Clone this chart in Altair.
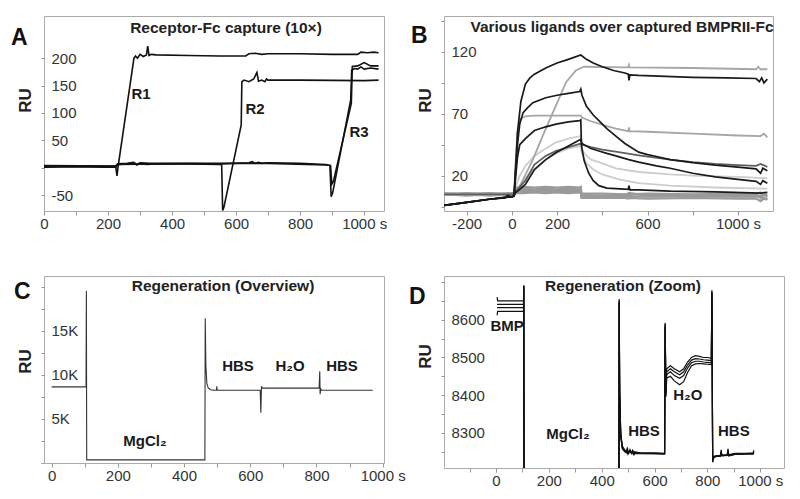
import altair as alt
import pandas as pd

FONT = "Liberation Sans"

# ---------------- Panel A: Receptor-Fc capture ----------------
A_x1 = [0, 100, 200, 224, 228, 231, 281, 286, 292, 300, 310, 320, 324, 328, 335, 350, 450, 550, 630, 640, 660, 680, 700, 800, 900, 980, 990, 1010, 1030, 1045]
A_y1 = [2, 3, 2, 2, -15, 0, 200, 204, 200, 207, 203, 206, 222, 205, 207, 206, 205, 204, 204, 208, 209, 207, 208, 208, 207, 207, 211, 210, 211, 210]
A_x2 = [0, 100, 200, 224, 230, 260, 280, 290, 300, 320, 350, 450, 550, 555, 558, 562, 616, 618, 625, 640, 655, 665, 670, 680, 690, 695, 700, 800, 1000, 1045]
A_y2 = [1, 2, 1, 1, 6, 7, 9, 5, 8, 6, 7, 7, 6, 5, -78, -72, 78, 157, 160, 157, 162, 174, 158, 160, 157, 162, 160, 160, 159, 160]
A_x3 = [0, 100, 200, 224, 230, 260, 280, 290, 300, 330, 350, 450, 550, 640, 650, 660, 670, 680, 700, 800, 880, 893, 897, 902, 958, 961, 970, 980, 990, 1000, 1020, 1045]
A_y3 = [3, 3, 2, 3, 7, 8, 10, 6, 9, 8, 8, 8, 7, 9, 11, 8, 10, 8, 9, 8, 6, 4, -53, -45, 124, 178, 181, 180, 184, 180, 182, 180]
A_x4 = [0, 224, 230, 350, 550, 700, 880, 895, 899, 904, 960, 963, 980, 1000, 1020, 1045]
A_y4 = [4, 3, 6, 7, 8, 8, 5, 4, -30, -25, 118, 185, 186, 192, 186, 186]
A_lab = ["R1", "R2", "R3"]
A_lab_x = [303, 659, 984]
A_lab_y = [134, 107, 65]

# ---------------- Panel B: ligands over captured BMPRII-Fc ----------------
B_x1 = [-300, -200, -100, -30, -20, 0, 10, 15, 25, 40, 60, 80, 100, 150, 200, 250, 305, 330, 360, 400, 450, 500, 515, 518, 522, 560, 650, 800, 950, 1080, 1095, 1105, 1115, 1130]
B_y1 = [-4, -1.5, 1, 2, 4, 3, 3.5, 20, 55, 80, 94, 99, 102, 107, 111, 114, 117.5, 114, 111, 108, 105, 103, 102, 97, 101.5, 101, 100.5, 99.5, 99, 98.5, 96, 99, 95, 98]
B_x2 = [-300, -150, 0, 10, 20, 50, 93, 136, 196, 240, 283, 305, 320, 500, 515, 518, 521, 800, 1080, 1090, 1100, 1130]
B_y2 = [5, 5.5, 5, 5, 6, 17, 33, 52, 77, 95.5, 105, 107, 108, 107.5, 107.5, 109.5, 107.5, 107, 106, 108, 106, 106]
B_x3 = [-300, -200, -100, 0, 10, 15, 25, 35, 50, 70, 93, 150, 200, 250, 300, 305, 310, 330, 360, 385, 420, 460, 500, 561, 600, 640, 700, 800, 900, 1000, 1080, 1100, 1110, 1130]
B_y3 = [-4, -1.5, 1, 3, 3.5, 20, 45, 62, 71, 75, 79, 83, 85, 86.5, 88, 90, 85, 76, 69, 64.5, 58, 52, 46, 39, 37, 35.5, 33, 30.5, 28.5, 27, 25.5, 22, 26, 24]
B_x4 = [-300, 0, 10, 15, 25, 40, 60, 100, 200, 305, 310, 350, 385, 420, 460, 515, 518, 521, 600, 800, 1000, 1100, 1115, 1130]
B_y4 = [5, 5, 5, 25, 55, 66, 68, 68.5, 68.5, 68.5, 67, 64, 62, 60, 58, 56, 59, 56, 55.5, 54, 52.5, 52, 54, 51]
B_x5 = [-300, -200, -100, 0, 10, 15, 25, 35, 60, 100, 150, 196, 250, 300, 305, 308, 320, 340, 360, 385, 420, 460, 515, 518, 522, 560, 700, 900, 1100, 1130]
B_y5 = [-4, -1.5, 1, 3, 3.5, 15, 35, 45, 50, 56.5, 59.5, 61.7, 63.5, 64.5, 65, 44, 32, 22, 16, 12, 10, 9.5, 9, 12, 8.5, 8.5, 7.5, 7, 6, 6.5]
B_x6 = [-300, -200, -100, 0, 10, 15, 35, 60, 100, 150, 196, 250, 305, 310, 350, 385, 420, 460, 517, 561, 640, 700, 800, 900, 1000, 1080, 1100, 1110, 1130]
B_y6 = [-4, -1.5, 1, 3, 3.5, 6, 9, 13, 25, 33, 38.7, 44, 49.5, 46, 42, 40, 38, 36, 33, 31, 28, 26, 22, 19, 17, 15.5, 13, 16, 14]
B_x7 = [-300, 0, 10, 15, 35, 60, 100, 150, 196, 250, 305, 310, 350, 400, 473, 561, 700, 800, 900, 1000, 1080, 1100, 1130]
B_y7 = [5, 5, 5, 7, 11, 16, 29, 36, 40, 43, 46, 45, 43, 41, 39, 36.5, 33, 31, 29.5, 28.5, 28, 29.5, 27]
B_x8 = [-300, 0, 10, 15, 35, 60, 100, 150, 196, 250, 305, 310, 320, 350, 385, 460, 561, 700, 800, 1000, 1130]
B_y8 = [5, 5, 5, 10, 20, 28, 36, 42, 47, 50, 52, 42, 38, 33, 31, 26, 23, 21, 20, 19, 18]
B_x9 = [-300, 0, 10, 15, 35, 60, 100, 150, 196, 250, 305, 310, 330, 360, 400, 473, 561, 700, 900, 1130]
B_y9 = [5, 5, 5, 6, 12, 18, 25, 33, 38, 42, 44, 38, 30, 25, 21, 17, 14, 12, 10.5, 9.5]
B_xg = [-300, -250, -200, -150, -100, -50, 0, 10, 12, 50, 100, 150, 200, 250, 300, 305, 308, 400, 500, 515, 518, 600, 800, 1000, 1080, 1100, 1115, 1130]
B_yg1 = [6, 5.5, 6, 5.5, 6, 5.5, 6, 6, 10.5, 11, 10.5, 11, 10.5, 11, 10.5, 11, 4.5, 4, 4.5, 4, 6, 4, 4.5, 4, 4.5, 2, 5, 3]
B_yg2 = [5, 5.5, 5, 5.5, 5, 5.5, 5, 5, 9, 9.5, 9, 9.5, 9, 9.5, 9, 9.5, 3, 3, 3.5, 3, 3.5, 3, 3.5, 3, 3, 4, 1, 2]
B_yg3 = [4.5, 4.5, 4, 4.5, 4, 4.5, 4, 4, 7.5, 8, 7.5, 8, 7.5, 8, 7.5, 8, 2, 2, 2, 1.5, 2, 1.5, 2, 1.5, 1.5, -0.5, 2, 0.5]
B_yg4 = [5, 5, 5.5, 5, 5.5, 5, 5.5, 5.5, 6, 6, 6.5, 6, 6.5, 6, 6.5, 6, 5.5, 5.5, 5, 5.5, 5, 5.5, 5, 5.5, 5, 6.5, 4, 5]

# ---------------- Panel C: Regeneration overview ----------------
C_x = [0, 104, 105, 106, 463, 464, 466, 469, 473, 480, 490, 498, 499, 500, 630, 632, 634, 636, 808, 810, 811, 813, 815, 970]
C_y = [8630, 8630, 19500, 350, 350, 16400, 11000, 9000, 8500, 8300, 8260, 8250, 8700, 8250, 8245, 5700, 8700, 8485, 8485, 10400, 7800, 8400, 8250, 8245]
C_lab = ["MgCl₂", "HBS", "H₂O", "HBS"]
C_lab_x = [282, 563, 720, 877]
C_lab_y = [2460, 10960, 10960, 10960]

# ---------------- Panel D: Regeneration zoom ----------------
D_x = [4, 6, 104, 105, 106, 465, 466, 468, 472, 478, 487, 494, 497, 500, 507, 514, 517, 522, 525, 545, 600, 638, 640, 643,
       646, 660, 675, 695, 710, 725, 740, 755, 770, 785, 800, 815,
       817, 820, 825, 837, 849, 852, 855, 875, 878, 881, 905, 945, 973, 976]
D_y1 = [8660, 8650, 8650, 8690, 8000, 8000, 8655, 8420, 8300, 8265, 8255, 8250, 8262, 8245, 8256, 8245, 8255, 8243, 8250, 8247, 8247, 8246, 8592, 8410,
        8470, 8478, 8470, 8462, 8470, 8488, 8500, 8505, 8503, 8500, 8500, 8498,
        8678, 8222, 8238, 8240, 8240, 8255, 8240, 8242, 8258, 8242, 8246, 8246, 8247, 8254]
D_y2 = [8641, 8641, 8641, 8690, 8000, 8000, 8650, 8410, 8295, 8262, 8253, 8249, 8258, 8246, 8252, 8246, 8253, 8244, 8248, 8246, 8246, 8245, 8588, 8405,
        8462, 8470, 8462, 8454, 8462, 8480, 8493, 8497, 8496, 8494, 8493, 8492,
        8675, 8225, 8237, 8239, 8240, 8250, 8241, 8241, 8254, 8241, 8245, 8245, 8246, 8250]
D_y3 = [8632, 8632, 8632, 8690, 8000, 8000, 8648, 8400, 8292, 8260, 8252, 8248, 8256, 8246, 8250, 8247, 8251, 8245, 8247, 8246, 8245, 8245, 8585, 8400,
        8455, 8462, 8452, 8445, 8452, 8472, 8486, 8490, 8490, 8488, 8487, 8486,
        8672, 8228, 8236, 8239, 8239, 8248, 8240, 8241, 8250, 8240, 8244, 8245, 8245, 8248]
D_y4 = [8612, 8622, 8622, 8690, 8000, 8000, 8645, 8395, 8290, 8258, 8250, 8247, 8254, 8245, 8249, 8246, 8250, 8244, 8246, 8245, 8245, 8244, 8580, 8395,
        8445, 8450, 8438, 8428, 8436, 8460, 8478, 8483, 8484, 8483, 8482, 8481,
        8670, 8230, 8235, 8238, 8238, 8246, 8239, 8240, 8248, 8239, 8243, 8244, 8244, 8246]
D_lab = ["BMP", "MgCl₂", "HBS", "H₂O", "HBS"]
D_lab_x = [42, 272, 560, 726, 900]
D_lab_y = [8584, 8298, 8306, 8401, 8306]


def long_df(series):
    rows = []
    for name, xs, ys in series:
        for a, b in zip(xs, ys):
            rows.append({"series": name, "x": a, "y": b})
    return pd.DataFrame(rows)


def x_axis(values, label_expr):
    return alt.Axis(values=values, labelExpr=label_expr, domain=False, grid=False,
                    ticks=True, tickSize=4, tickColor="#999", tickWidth=1,
                    labelFont=FONT, labelFontSize=15, labelColor="#333", labelPadding=1,
                    labelFlush=False, labelOverlap=False, title=None)


def y_axis(values, label_expr, title_y):
    return alt.Axis(values=values, labelExpr=label_expr, domain=False, grid=False,
                    ticks=True, tickSize=3, tickColor="#999", tickWidth=1,
                    labelFont=FONT, labelFontSize=15, labelColor="#333",
                    labelAlign="left", labelBaseline="middle", labelPadding=-10,
                    labelFlush=False, labelOverlap=False,
                    title="RU", titleFont=FONT, titleFontSize=17, titleFontWeight="bold",
                    titleColor="#222", titleAngle=270, titleX=-19, titleY=title_y,
                    titleBaseline="middle", titleAlign="center")


def title_text(text, px, py):
    return alt.Chart(pd.DataFrame({"t": [text]})).mark_text(
        font=FONT, fontSize=15.5, fontWeight="bold", color="#222", align="center", baseline="middle"
    ).encode(x=alt.value(px), y=alt.value(py), text="t:N")


def letter_text(text, px, py):
    return alt.Chart(pd.DataFrame({"t": [text]})).mark_text(
        font=FONT, fontSize=23, fontWeight="bold", color="#111", align="left", baseline="middle"
    ).encode(x=alt.value(px), y=alt.value(py), text="t:N")


def labels(texts, xs, ys, xenc, yenc):
    return alt.Chart(pd.DataFrame({"t": texts, "x": xs, "y": ys})).mark_text(
        font=FONT, fontSize=15, fontWeight="bold", color="#1a1a1a", align="center", baseline="middle"
    ).encode(x=xenc, y=yenc, text="t:N")


def xlab(step_label, extra_hide=""):
    cond = "datum.value == 1000 ? '1000 s' : "
    hide = ("(" + extra_hide + ") ? '' : ") if extra_hide else ""
    return cond + hide + "(datum.value % " + str(step_label) + " == 0 ? '' + datum.value : '')"


# ---- Panel A ----
dfA = long_df([("t1", A_x1, A_y1), ("t2", A_x2, A_y2), ("t3", A_x3, A_y3), ("t4", A_x4, A_y4)])
xA = alt.X("x:Q", scale=alt.Scale(domain=[0, 1062], nice=False, zero=False),
           axis=x_axis(list(range(0, 1001, 100)), xlab(200)))
yA = alt.Y("y:Q", scale=alt.Scale(domain=[-79, 277], nice=False, zero=False),
           axis=y_axis([-50, 0, 50, 100, 150, 200], "datum.value == 0 ? '' : '' + datum.value", 84))
linesA = alt.Chart(dfA).mark_line(color="#111", strokeWidth=1.6, clip=True).encode(
    x=xA, y=yA, detail="series:N")
panelA = alt.layer(
    linesA, labels(A_lab, A_lab_x, A_lab_y, xA, yA),
    title_text("Receptor-Fc capture (10×)", 182, 12), letter_text("A", -33, 22)
).properties(width=340, height=195)

# ---- Panel B ----
xB = alt.X("x:Q", scale=alt.Scale(domain=[-300, 1155], nice=False, zero=False),
           axis=x_axis(list(range(-200, 1001, 200)), xlab(200, "datum.value == 400 || datum.value == 800")))
yB = alt.Y("y:Q", scale=alt.Scale(domain=[-8.5, 149], nice=False, zero=False),
           axis=y_axis([-5, 20, 45, 70, 95, 120, 145],
                       "(datum.value == 20 || datum.value == 70 || datum.value == 120) ? '' + datum.value : ''", 84))
grp_base = long_df([("g1", B_xg, B_yg1), ("g2", B_xg, B_yg2), ("g3", B_xg, B_yg3), ("g4", B_xg, B_yg4)])
grp_light = long_df([("c8", B_x8, B_y8), ("c9", B_x9, B_y9)])
grp_mid = long_df([("c2", B_x2, B_y2), ("c4", B_x4, B_y4)])
grp_dark = long_df([("c7", B_x7, B_y7)])
grp_black = long_df([("c1", B_x1, B_y1), ("c3", B_x3, B_y3), ("c5", B_x5, B_y5), ("c6", B_x6, B_y6)])


def blines(df, color, width):
    return alt.Chart(df).mark_line(color=color, strokeWidth=width, clip=True).encode(
        x=xB, y=yB, detail="series:N")


panelB = alt.layer(
    blines(grp_base, "#9a9a9a", 2.2),
    blines(grp_light, "#cdcdcd", 1.8),
    blines(grp_mid, "#a6a6a6", 1.8),
    blines(grp_dark, "#5e5e5e", 1.8),
    blines(grp_black, "#1a1a1a", 1.7),
    title_text("Various ligands over  captured BMPRII-Fc", 178, 11), letter_text("B", -33, 20)
).properties(width=329, height=195)

# ---- Panel C ----
dfC = pd.DataFrame({"x": C_x, "y": C_y})
xC = alt.X("x:Q", scale=alt.Scale(domain=[-23, 1004], nice=False, zero=False),
           axis=x_axis(list(range(0, 1001, 100)), xlab(200)))
yC = alt.Y("y:Q", scale=alt.Scale(domain=[0, 21200], nice=False, zero=False),
           axis=y_axis(list(range(0, 20001, 2500)),
                       "datum.value == 5000 ? '5K' : datum.value == 10000 ? '10K' : datum.value == 15000 ? '15K' : ''", 85))
linesC = alt.Chart(dfC).mark_line(color="#333", strokeWidth=1.1, clip=True).encode(x=xC, y=yC)
panelC = alt.layer(
    linesC, labels(C_lab, C_lab_x, C_lab_y, xC, yC),
    title_text("Regeneration (Overview)", 179, 10), letter_text("C", -30, 16)
).properties(width=340, height=187)

# ---- Panel D ----
dfD = long_df([("d1", D_x, D_y1), ("d2", D_x, D_y2), ("d3", D_x, D_y3), ("d4", D_x, D_y4)])
xD = alt.X("x:Q", scale=alt.Scale(domain=[-197, 1090], nice=False, zero=False),
           axis=x_axis(list(range(-100, 1001, 100)), xlab(200)))
yD = alt.Y("y:Q", scale=alt.Scale(domain=[8207, 8716], nice=False, zero=False),
           axis=y_axis(list(range(8250, 8701, 50)),
                       "(datum.value % 100 == 0 && datum.value <= 8600) ? '' + datum.value : ''", 80))
linesD = alt.Chart(dfD).mark_line(color="#111", strokeWidth=1.2, clip=True).encode(
    x=xD, y=yD, detail="series:N")
panelD = alt.layer(
    linesD, labels(D_lab, D_lab_x, D_lab_y, xD, yD),
    title_text("Regeneration (Zoom)", 179, 10), letter_text("D", -35, 21)
).properties(width=340, height=192)

chart = alt.concat(
    panelA, panelB, panelC, panelD, columns=2,
    spacing={"row": 65, "column": 60}, bounds="flush"
).properties(
    padding={"left": 2, "top": 5, "right": 5, "bottom": 5},
    background="white",
).configure_view(stroke="#aaaaaa", strokeWidth=1)

chart.save("out.html", embed_options={"renderer": "svg", "actions": False})
